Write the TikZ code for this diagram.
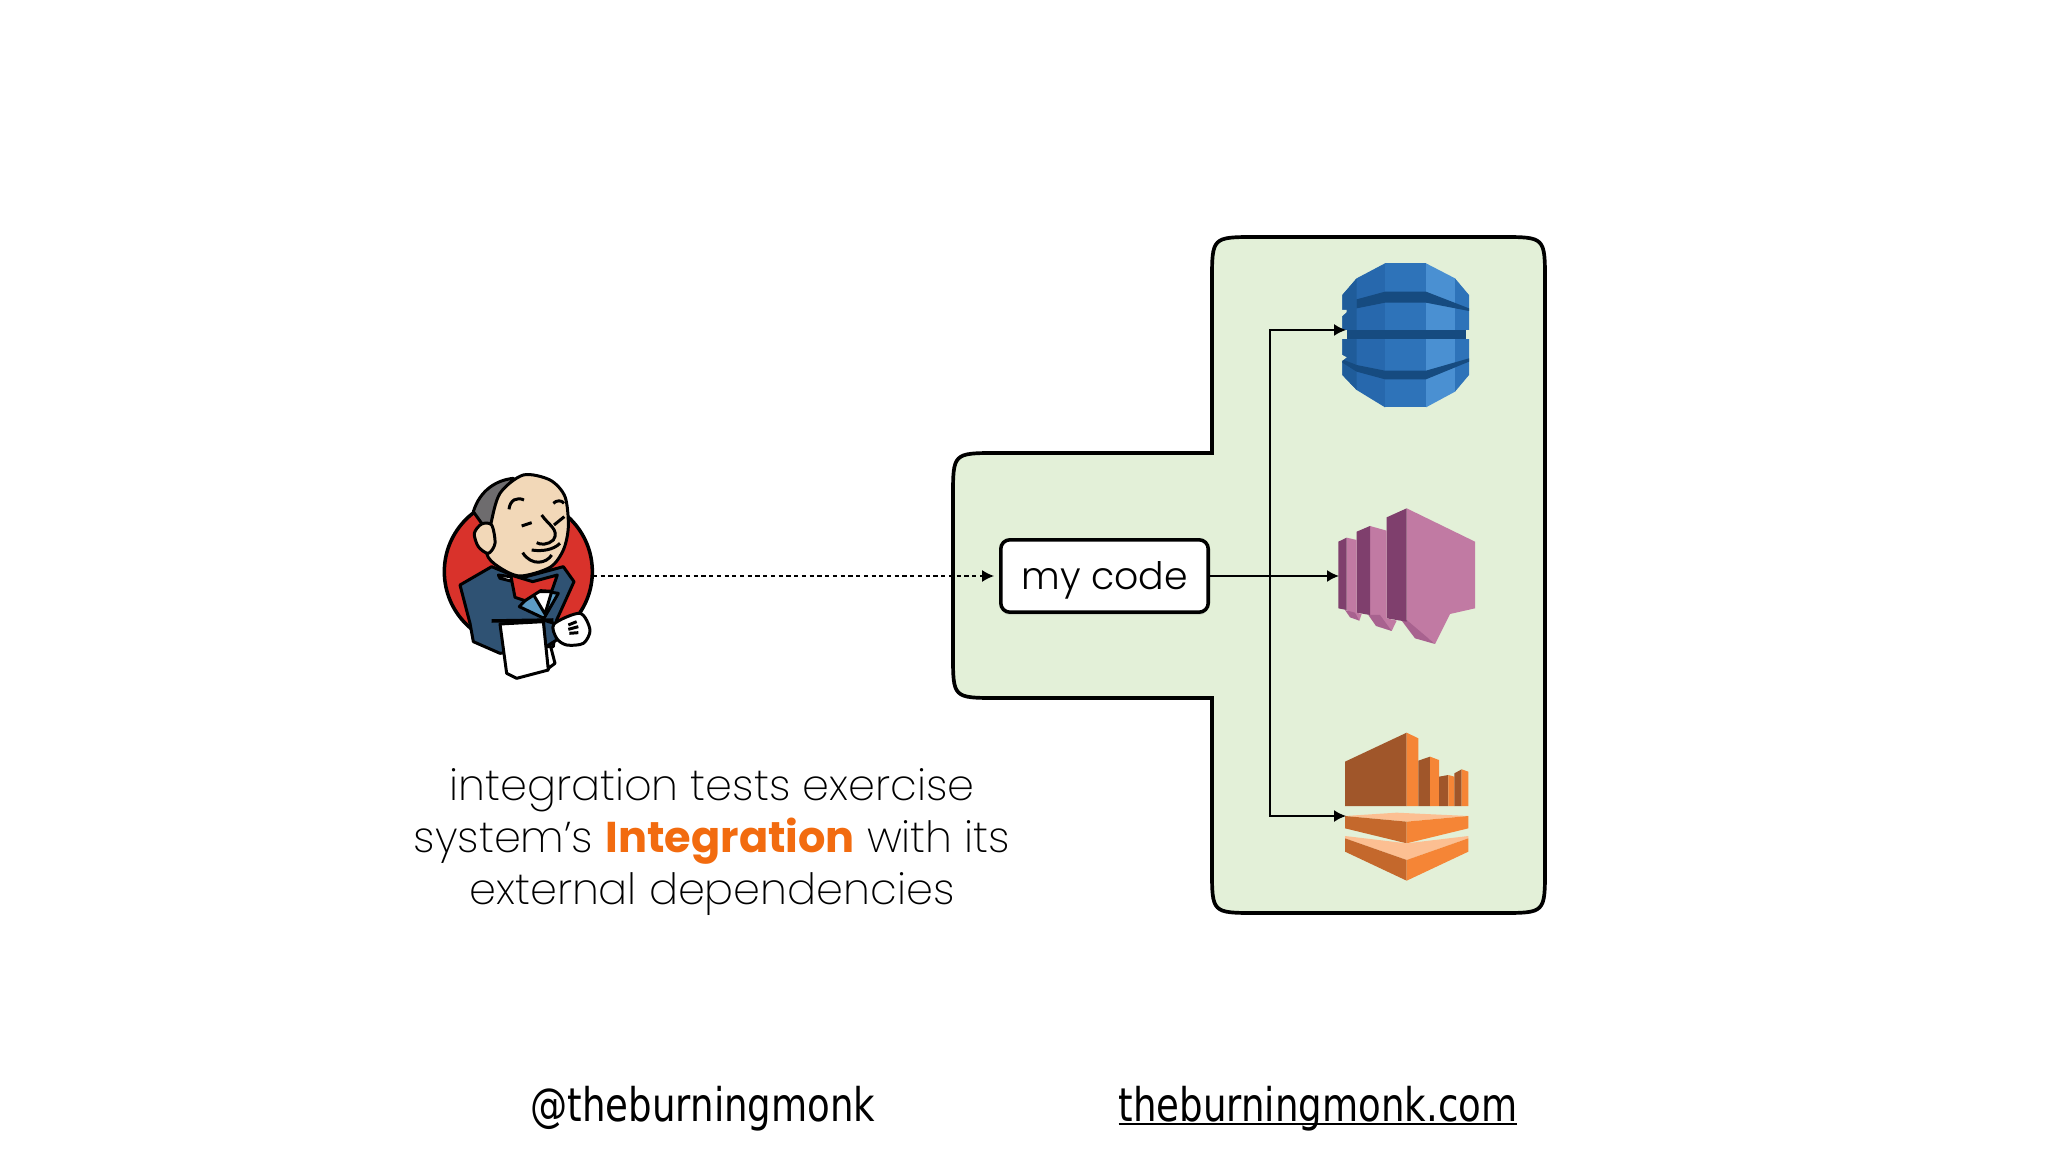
\documentclass[tikz,border=0pt]{standalone}
\usepackage{fontspec}
\usepackage{tikz}
\usetikzlibrary{arrows.meta,shadows,decorations.pathmorphing}
\setmainfont{Poppins}[UprightFont=* ExtraLight,BoldFont=* Bold]
\newfontfamily\codefont{Poppins Light}
\newfontfamily\footfont{DejaVu Sans}[FakeStretch=0.8]
\newcommand{\sitelink}[1]{\setbox0\hbox{#1}\rlap{\rule[-1.1pt]{\wd0}{.65pt}}\box0}
\newcommand{\panelpath}{(1256, 237) -- (1501, 237) .. controls (1545, 237) .. (1545, 281) -- (1545, 869) .. controls (1545, 913) .. (1501, 913) -- (1256, 913) .. controls (1212, 913) .. (1212, 869) -- (1212, 698) -- (997, 698) .. controls (953, 698) .. (953, 654) -- (953, 497) .. controls (953, 453) .. (997, 453) -- (1212, 453) -- (1212, 281) .. controls (1212, 237) .. cycle}
\definecolor{panelgreen}{HTML}{E3F0D8}
\definecolor{hiorange}{HTML}{F26B0F}
\definecolor{dynA}{HTML}{1F5C9A}
\definecolor{dynB}{HTML}{2768AD}
\definecolor{dynC}{HTML}{2E73B9}
\definecolor{dynD}{HTML}{4A90D2}
\definecolor{dynE}{HTML}{164B80}
\definecolor{kinA}{HTML}{C17AA3}
\definecolor{kinB}{HTML}{7F3F6D}
\definecolor{kinC}{HTML}{A8628F}
\definecolor{fireA}{HTML}{A0562A}
\definecolor{fireB}{HTML}{F58536}
\definecolor{fireC}{HTML}{FCBF92}
\definecolor{fireD}{HTML}{C4682C}
\definecolor{jenRed}{HTML}{D9322B}
\definecolor{jenNavy}{HTML}{2F5273}
\definecolor{jenBlue}{HTML}{5C9BC4}
\definecolor{jenSkin}{HTML}{F2D8B8}
\definecolor{jenHair}{HTML}{6E6C6E}

\begin{document}
\begin{tikzpicture}[x=.01cm, y=-.01cm,
    conn/.style={line width=.48pt, -{Latex[length=3.4pt,width=3.4pt]}},
    jen/.style={draw=black, line width=.85pt, line join=round},
    sketch/.style={decorate, decoration={random steps, segment length=2pt, amplitude=.3pt}, line width=.4pt},
    codebox/.style={draw, fill=white, line width=1pt, rounded corners=2.6pt, minimum width=59pt, minimum height=20.6pt, inner sep=0pt, text height=9.6pt, text depth=2pt, drop shadow={shadow xshift=0pt, shadow yshift=-.8pt, opacity=.2}},
    caption/.style={align=center, font=\fontsize{12.25}{14.8}\selectfont},
    foot/.style={font=\footfont\fontsize{13.2}{16}\selectfont, anchor=base}]
  \useasboundingbox (0, 0) rectangle (2048, 1152);
  \pgfmathsetseed{7}

  % panel
  \draw [fill=panelgreen, line width=1.05pt] \panelpath;
  \draw [sketch] (1258, 237) -- (1499, 237);
  \draw [sketch] (1545, 283) -- (1545, 867);
  \draw [sketch] (1499, 913) -- (1258, 913);
  \draw [sketch] (1212, 867) -- (1212, 698);
  \draw [sketch] (1212, 698) -- (999, 698);
  \draw [sketch] (953, 652) -- (953, 499);
  \draw [sketch] (999, 453) -- (1212, 453);
  \draw [sketch] (1212, 453) -- (1212, 283);

  % dynamodb
  \begin{scope}[shift={(1300, 240)}, scale=1/3]
    \fill [dynB] (127, 165) -- (170, 115) -- (255, 70) -- (255, 502) -- (170, 450) -- (127, 405) -- cycle;
    \fill [dynC] (255, 70) rectangle (378, 502);
    \fill [dynD] (378, 70) -- (465, 115) -- (465, 455) -- (378, 502) -- cycle;
    \fill [dynC] (465, 115) -- (507, 165) -- (507, 405) -- (465, 455) -- cycle;
    \fill [dynA] (127, 165) -- (170, 115) -- (170, 450) -- (127, 405) -- cycle;
    \fill [dynE] (170, 178) -- (255, 155) -- (378, 155) -- (507, 205) -- (507, 213) -- (378, 188) -- (255, 188) -- (170, 205) -- cycle;
    \fill [dynE] (140, 270) rectangle (497, 298);
    \fill [dynE] (127, 358) -- (170, 375) -- (255, 392) -- (378, 392) -- (507, 355) -- (507, 365) -- (378, 418) -- (255, 418) -- (170, 395) -- (127, 368) -- cycle;
    \fill [panelgreen] (120, 210) -- (140, 210) -- (140, 216) -- (127, 228) -- (120, 228) -- cycle;
    \fill [panelgreen] (120, 270) -- (140, 270) -- (140, 298) -- (120, 298) -- cycle;
    \fill [panelgreen] (120, 345) -- (127, 345) -- (140, 352) -- (127, 362) -- (120, 362) -- cycle;
    \fill [panelgreen] (497, 270) rectangle (512, 298);
  \end{scope}

  % kinesis
  \begin{scope}[shift={(1300, 490)}, scale=1/3]
    \fill [kinA] (320, 55) -- (525, 155) -- (525, 355) -- (450, 372) -- (405, 462) -- (320, 395) -- cycle;
    \fill [kinC] (305, 392) -- (320, 390) -- (405, 462) -- (345, 445) -- cycle;
    \fill [kinB] (260, 82) -- (320, 55) -- (320, 395) -- (260, 385) -- cycle;
    \fill [kinA] (210, 108) -- (260, 122) -- (260, 385) -- (290, 392) -- (275, 423) -- (210, 375) -- cycle;
    \fill [kinC] (205, 375) -- (240, 375) -- (275, 423) -- (228, 408) -- cycle;
    \fill [kinB] (170, 125) -- (210, 108) -- (210, 375) -- (170, 368) -- cycle;
    \fill [kinA] (140, 143) -- (170, 150) -- (170, 368) -- (185, 372) -- (178, 392) -- (140, 360) -- cycle;
    \fill [kinC] (135, 360) -- (165, 368) -- (178, 392) -- (150, 382) -- cycle;
    \fill [kinB] (115, 155) -- (140, 143) -- (140, 360) -- (115, 355) -- cycle;
  \end{scope}

  % firehose
  \begin{scope}[shift={(1300, 720)}, scale=1/3]
    \fill [fireA] (135, 125) -- (320, 38) -- (320, 258) -- (135, 258) -- cycle;
    \fill [fireB] (320, 38) -- (355, 55) -- (355, 258) -- (320, 258) -- cycle;
    \fill [fireA] (355, 122) -- (390, 110) -- (390, 258) -- (355, 258) -- cycle;
    \fill [fireB] (390, 110) -- (417, 120) -- (417, 258) -- (390, 258) -- cycle;
    \fill [fireA] (417, 170) -- (445, 165) -- (445, 258) -- (417, 258) -- cycle;
    \fill [fireB] (445, 165) -- (463, 170) -- (463, 258) -- (445, 258) -- cycle;
    \fill [fireA] (463, 160) -- (485, 148) -- (485, 258) -- (463, 258) -- cycle;
    \fill [fireB] (485, 148) -- (505, 155) -- (505, 258) -- (485, 258) -- cycle;
    \fill [fireC] (135, 288) -- (290, 278) -- (505, 288) -- (320, 305) -- cycle;
    \fill [fireD] (135, 288) -- (320, 305) -- (320, 370) -- (135, 325) -- cycle;
    \fill [fireB] (320, 305) -- (505, 288) -- (505, 325) -- (320, 370) -- cycle;
    \fill [fireC] (135, 348) -- (320, 370) -- (505, 348) -- (505, 355) -- (320, 420) -- (135, 355) -- cycle;
    \fill [fireD] (135, 355) -- (320, 420) -- (320, 482) -- (135, 395) -- cycle;
    \fill [fireB] (320, 420) -- (505, 355) -- (505, 395) -- (320, 482) -- cycle;
  \end{scope}

  % butler
  \begin{scope}[shift={(420, 450)}, scale=1/3]
    \draw [jen, fill=jenRed, line width=1pt] (295, 365) circle (222);
    \draw [jen, fill=jenNavy] (120, 405) -- (215, 350) -- (300, 385) -- (430, 350) -- (462, 395) -- (410, 510) -- (400, 590) -- (240, 610) -- (160, 575) -- (150, 520) -- cycle;
    \draw [jen, fill=jenHair] (160, 185) .. controls (180, 120) and (230, 90) .. (280, 85) -- (230, 170) -- (215, 245) -- (185, 220) -- cycle;
    \draw [jen, fill=jenSkin] plot [smooth cycle] coordinates {(212, 225) (240, 130) (310, 75) (390, 90) (435, 140) (445, 230) (430, 300) (390, 352) (300, 378) (235, 350) (200, 310)};
    \draw [jen, fill=jenSkin] plot [smooth cycle] coordinates {(215, 225) (185, 222) (163, 250) (175, 290) (205, 310) (225, 280)};
    \draw [jen] (267, 178) .. controls (270, 150) and (290, 140) .. (312, 150);
    \draw [jen] (400, 160) .. controls (410, 150) and (425, 150) .. (432, 160);
    \draw [jen] (305, 228) -- (335, 218);
    \draw [jen] (402, 225) -- (433, 200);
    \draw [jen] (365, 195) .. controls (385, 225) and (420, 240) .. (400, 270) .. controls (385, 285) and (360, 285) .. (350, 278);
    \draw [jen] (308, 308) .. controls (335, 350) and (380, 340) .. (395, 315);
    \draw [jen] (335, 300) .. controls (365, 305) and (400, 300) .. (420, 280);
    \draw [jen, fill=white] (235, 375) -- (285, 382) -- (280, 395) -- (240, 385) -- cycle;
    \draw [jen, fill=jenBlue] (298, 470) -- (345, 420) -- (415, 430) -- (372, 505) -- cycle;
    \draw [jen, fill=white] (335, 425) -- (395, 425) -- (375, 492) -- cycle;
    \draw [jen, fill=jenRed] (272, 375) -- (338, 395) -- (412, 375) -- (395, 424) -- (362, 422) -- (315, 452) -- (285, 442) -- cycle;
    \draw [jen, fill=jenNavy] (370, 510) -- (402, 520) -- (410, 570) -- (375, 592) -- cycle;
    \draw [jen, fill=white] (372, 590) -- (392, 590) -- (405, 640) -- (385, 655) -- cycle;
    \draw [jen, fill=white] (240, 522) -- (370, 515) -- (385, 660) -- (290, 685) -- (260, 670) -- cycle;
    \draw [jen, line width=1pt] (215, 513) -- (400, 510);
    \draw [jen, fill=white] plot [smooth cycle] coordinates {(402, 522) (480, 490) (510, 540) (490, 580) (440, 585) (410, 565)};
    \draw [jen] (445, 525) -- (470, 515);
    \draw [jen] (445, 538) -- (475, 530);
    \draw [jen] (448, 550) -- (475, 548);
  \end{scope}

  \coordinate (butler) at (593, 576);
  \coordinate (dynamo) at (1346, 330);
  \coordinate (kinesis) at (1339, 576);
  \coordinate (firehose) at (1346, 816);
  \coordinate (bus) at (1270, 576);
  \node [codebox] (code) at (1104.5, 576) {\codefont\fontsize{10.75}{13}\selectfont my code};

  \draw [conn, dash pattern=on 1.2pt off 1pt, shorten >=1.4pt] (butler) -- (code);
  \draw [conn] (code) -- (kinesis);
  \draw [conn] (bus) |- (dynamo);
  \draw [conn] (bus) |- (firehose);

  \node [caption] (note) at (712, 842) {integration tests exercise\\system’s \textcolor{hiorange}{\textbf{Integration}} with its\\external dependencies};
  \node [foot] (handle) at (703, 1121) {@theburningmonk};
  \node [foot] (site) at (1318, 1121) {\sitelink{theburningmonk.com}};
\end{tikzpicture}
\end{document}
